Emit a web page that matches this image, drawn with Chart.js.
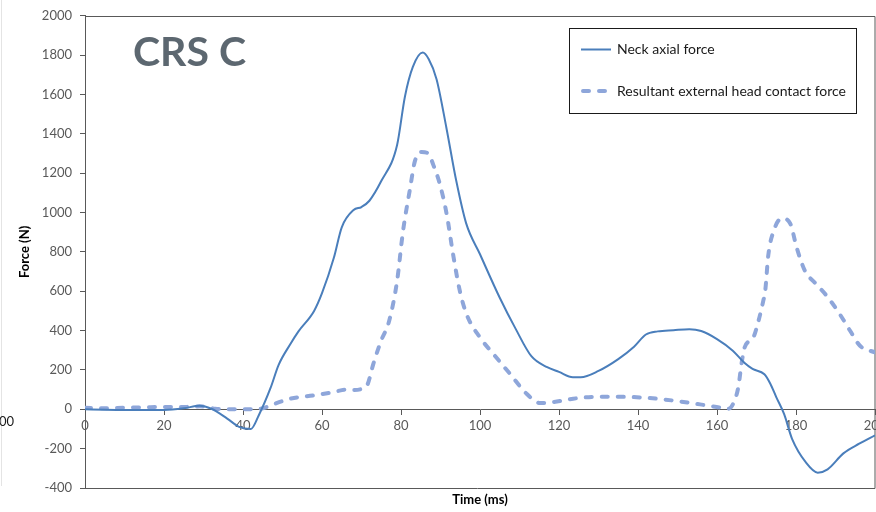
<!DOCTYPE html>
<html>
<head>
<meta charset="utf-8">
<title>CRS C</title>
<script src="https://cdn.jsdelivr.net/npm/chart.js@4.4.1/dist/chart.umd.min.js"></script>
<style>
    html, body { margin: 0; padding: 0; background: #fff; }
    #wrap { position: relative; width: 876px; height: 512px; }
</style>
</head>
<body>
<div id="wrap"><canvas id="forceChart"></canvas></div>
<script>
    // Fuerza axial de cuello (ms, N)
    const neckTime = [0, 5, 10, 15, 20, 25, 29, 32, 36, 39, 42, 44, 47, 49, 52, 54, 58, 60, 63, 65, 68, 70, 72, 75, 79, 81, 83, 85.5, 87, 89, 91.5, 94, 96.5, 100, 105, 109, 113, 117, 120, 123.5, 125.5, 130, 135, 139, 142, 145, 149, 153, 156, 160, 164, 167, 169, 172, 173.5, 175, 177, 179, 182.5, 185.5, 188, 192, 196, 200];
    const neckForce = [0, -2, -3, -3, -3, 5, 18, 3, -47, -89, -100, -30, 110, 225, 332, 395, 500, 590, 770, 925, 1013, 1028, 1060, 1160, 1342, 1590, 1740, 1813, 1780, 1678, 1430, 1160, 945, 788, 567, 410, 270, 214, 190, 163, 163, 195, 255, 318, 380, 396, 402, 407, 398, 357, 298, 235, 205, 178, 130, 62, -25, -150, -270, -322, -305, -224, -175, -133];

    // Fuerza de contacto externa resultante en la cabeza (ms, N)
    const headTime = [0, 5, 10, 15, 20, 25, 29, 33, 37, 42, 45, 47, 52, 58, 63, 66, 68, 70, 71.5, 73, 75, 77, 79, 80.5, 82.3, 83.5, 85.2, 86.9, 88.2, 89.9, 91.6, 93.2, 94.9, 96.6, 100, 103.4, 107.6, 111.8, 115.2, 118.6, 123.6, 130.4, 138.8, 144.7, 149.8, 155.7, 159.9, 162.9, 164.1, 165.4, 166.2, 167, 169.2, 170.5, 171.7, 172.2, 173, 174.3, 176.4, 178.5, 180.2, 182.3, 184.8, 187.8, 191.1, 193.7, 196.2, 200];
    const headForce = [8, 5, 8, 10, 12, 12, 15, 3, 0, 0, 5, 20, 54, 71, 88, 100, 98, 104, 125, 231, 350, 449, 651, 904, 1123, 1260, 1308, 1300, 1241, 1140, 988, 786, 601, 483, 365, 281, 180, 79, 32, 37, 54, 64, 62, 54, 42, 25, 12, 3, 29, 113, 231, 315, 365, 449, 550, 601, 786, 904, 971, 946, 820, 702, 643, 576, 483, 399, 323, 289];

    const seriesLabels = ['Neck axial force', 'Resultant external head contact force'];
    const timeTicks = { min: 0, max: 200, step: 20 };
    const forceTicks = { min: -400, max: 2000, step: 200 };

    const axisGray = '#595959';
    const labelGray = '#595959';

    function toPoints(xs, ys) {
        return xs.map((x, i) => ({ x: x, y: ys[i] }));
    }

    // Borde del área de trazado, título "CRS C" y leyenda con marco
    const decorPlugin = {
        id: 'decor',
        beforeDatasetsDraw(chart) {
            const { ctx, chartArea: a } = chart;
            ctx.save();
            ctx.strokeStyle = axisGray;
            ctx.lineWidth = 1;
            ctx.beginPath();
            ctx.moveTo(a.left, Math.round(a.top) + 0.5);
            ctx.lineTo(a.right, Math.round(a.top) + 0.5);
            ctx.lineTo(a.right, Math.round(a.bottom) + 0.5);
            ctx.lineTo(a.left - 5, Math.round(a.bottom) + 0.5);
            ctx.stroke();

            // linea tenue del borde izquierdo
            ctx.strokeStyle = '#e4e4e4';
            ctx.beginPath();
            ctx.moveTo(1.5, 0);
            ctx.lineTo(1.5, 486);
            ctx.stroke();
            ctx.restore();
        },
        afterDraw(chart) {
            const { ctx } = chart;
            ctx.save();

            ctx.fillStyle = '#5c6770';
            ctx.font = 'bold 41px Lato';
            ctx.textBaseline = 'alphabetic';
            ctx.textAlign = 'left';
            ctx.fillText('CRS C', 133, 66);

            ctx.fillStyle = '#1a1a1a';
            ctx.font = '13px Lato';
            ctx.textBaseline = 'middle';
            ctx.fillText('00', -1, 422);

            // leyenda
            const box = { x: 569.5, y: 28.5, w: 287, h: 85 };
            ctx.fillStyle = '#fff';
            ctx.fillRect(box.x, box.y, box.w, box.h);
            ctx.strokeStyle = '#1a1a1a';
            ctx.lineWidth = 1;
            ctx.strokeRect(box.x, box.y, box.w, box.h);

            const rows = [49.5, 91];
            chart.data.datasets.forEach((ds, i) => {
                ctx.save();
                ctx.strokeStyle = ds.borderColor;
                ctx.lineWidth = ds.borderWidth;
                ctx.lineCap = ds.borderCapStyle || 'butt';
                ctx.setLineDash(ds.borderDash || []);
                ctx.beginPath();
                ctx.moveTo(ds.borderDash ? 583 : 581, rows[i]);
                ctx.lineTo(611, rows[i]);
                ctx.stroke();
                ctx.restore();

                ctx.fillStyle = '#1a1a1a';
                ctx.font = '14px Lato';
                ctx.textBaseline = 'middle';
                ctx.fillText(ds.label, 617, rows[i]);
            });
            ctx.restore();
        }
    };

    Chart.defaults.font.family = 'Lato';

    const ctx = document.getElementById('forceChart').getContext('2d');
    new Chart(ctx, {
        type: 'line',
        data: {
            datasets: [{
                label: seriesLabels[0],
                data: toPoints(neckTime, neckForce),
                borderColor: '#4a7ebb',
                borderWidth: 2,
                pointRadius: 0,
                cubicInterpolationMode: 'monotone',
                fill: false
            }, {
                label: seriesLabels[1],
                data: toPoints(headTime, headForce),
                borderColor: '#8ea6da',
                borderWidth: 4,
                borderDash: [6, 10],
                borderCapStyle: 'round',
                pointRadius: 0,
                cubicInterpolationMode: 'monotone',
                fill: false
            }]
        },
        options: {
            responsive: true,
            maintainAspectRatio: false,
            animation: false,
            layout: {
                padding: { left: 0, top: 14, right: 1, bottom: 0 }
            },
            plugins: {
                legend: { display: false },
                tooltip: { enabled: false }
            },
            scales: {
                x: {
                    type: 'linear',
                    position: { y: 0 },
                    min: timeTicks.min,
                    max: timeTicks.max,
                    ticks: {
                        stepSize: timeTicks.step,
                        color: labelGray,
                        font: { size: 13 },
                        padding: 4,
                        maxRotation: 0,
                        callback: (value) => String(value)
                    },
                    grid: {
                        drawOnChartArea: false,
                        drawTicks: true,
                        tickLength: 5,
                        tickColor: axisGray
                    },
                    border: { color: axisGray, width: 1 },
                    afterFit(scale) {
                        scale.paddingLeft = 0;
                        scale.paddingRight = 0;
                    }
                },
                x2: {
                    type: 'linear',
                    position: 'bottom',
                    min: timeTicks.min,
                    max: timeTicks.max,
                    ticks: { display: false },
                    grid: { display: false },
                    border: { display: false },
                    title: {
                        display: true,
                        text: 'Time (ms)',
                        color: '#000',
                        font: { size: 13, weight: 'bold' },
                        padding: { top: 0, bottom: 4 }
                    },
                    afterFit(scale) {
                        scale.height = 24;
                    }
                },
                y: {
                    type: 'linear',
                    min: forceTicks.min,
                    max: forceTicks.max,
                    ticks: {
                        stepSize: forceTicks.step,
                        color: labelGray,
                        font: { size: 13 },
                        padding: 8,
                        callback: (value) => String(value)
                    },
                    grid: {
                        drawOnChartArea: false,
                        drawTicks: true,
                        tickLength: 5,
                        tickColor: axisGray
                    },
                    border: { color: axisGray, width: 1 },
                    title: {
                        display: true,
                        text: 'Force (N)',
                        color: '#000',
                        font: { size: 13, weight: 'bold' },
                        padding: { top: 17, bottom: 0 }
                    },
                    afterFit(scale) {
                        scale.width = 85;
                    }
                }
            }
        },
        plugins: [decorPlugin]
    });
</script>
</body>
</html>
